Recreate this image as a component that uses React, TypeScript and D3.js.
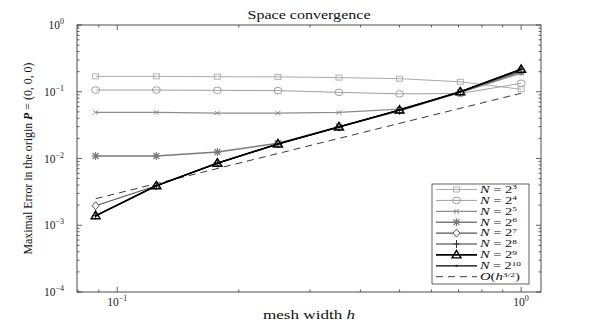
import React from "react";
import * as d3 from "d3";

const hValues = [0.0884, 0.125, 0.177, 0.25, 0.354, 0.5, 0.707, 1.0];
const errN3 = [0.17, 0.17, 0.168, 0.167, 0.163, 0.157, 0.141, 0.109];
const errN4 = [0.106, 0.106, 0.105, 0.104, 0.098, 0.093, 0.094, 0.134];
const errN5 = [0.049, 0.049, 0.048, 0.048, 0.049, 0.055, 0.097, 0.19];
const errN6 = [0.0109, 0.0109, 0.0125, 0.0169, 0.03, 0.052, 0.098, 0.2];
const errN7 = [0.00196, 0.0039, 0.0086, 0.0165, 0.0296, 0.0525, 0.099, 0.208];
const errN8 = [0.00139, 0.0039, 0.00847, 0.0165, 0.0296, 0.0533, 0.1, 0.215];
const errN9 = [0.00139, 0.0039, 0.0085, 0.0165, 0.0297, 0.0533, 0.1, 0.217];
const errN10 = [0.00138, 0.0039, 0.0085, 0.0165, 0.0297, 0.0533, 0.1, 0.217];
const refH = [0.0884, 1.0];
const refErr = [0.0025, 0.095];

const seriesExps = ["3", "4", "5", "6", "7", "8", "9", "10"];
const seriesData = [errN3, errN4, errN5, errN6, errN7, errN8, errN9, errN10];
const seriesColors = ["#aaaaaa", "#a0a0a0", "#8c8c8c", "#7a7a7a", "#555555", "#333333", "#000000", "#000000"];
const seriesWidths = [1, 1, 1.2, 1.5, 1.2, 1, 1.6, 1.2];
const seriesMarkers = ["square", "circle", "x", "star", "diamond", "plus", "triangle", "dot"];

const yTickExps = [0, -1, -2, -3, -4];
const xTickExps = [-1, 0];

const W = 598, H = 329;
const L = 77, R = 541, T = 25, B = 292;
const FONT = "'Liberation Serif', 'DejaVu Serif', serif";

function Marker({ type, x, y, color }: { type: string; x: number; y: number; color: string }) {
  switch (type) {
    case "square":
      return <rect x={x - 3} y={y - 2.5} width={6} height={5} fill="none" stroke={color} strokeWidth={0.9} />;
    case "circle":
      return <ellipse cx={x} cy={y} rx={4} ry={3.3} fill="none" stroke={color} strokeWidth={1} />;
    case "x":
      return (
        <path d={`M${x - 2.5},${y - 2}L${x + 2.5},${y + 2}M${x - 2.5},${y + 2}L${x + 2.5},${y - 2}`} stroke={color} strokeWidth={1} fill="none" />
      );
    case "star":
      return (
        <path
          d={`M${x - 4},${y}L${x + 4},${y}M${x},${y - 4}L${x},${y + 4}M${x - 3},${y - 3}L${x + 3},${y + 3}M${x - 3},${y + 3}L${x + 3},${y - 3}`}
          stroke={color}
          strokeWidth={1.2}
          fill="none"
        />
      );
    case "diamond":
      return <path d={`M${x},${y - 4}L${x + 3.5},${y}L${x},${y + 4}L${x - 3.5},${y}Z`} fill="#fff" stroke={color} strokeWidth={1} />;
    case "plus":
      return <path d={`M${x - 3},${y}L${x + 3},${y}M${x},${y - 4}L${x},${y + 4}`} stroke={color} strokeWidth={1} fill="none" />;
    case "triangle":
      return <path d={`M${x},${y - 4.5}L${x + 4.5},${y + 3}L${x - 4.5},${y + 3}Z`} fill="none" stroke={color} strokeWidth={1.4} />;
    case "dot":
      return <circle cx={x} cy={y} r={1} fill={color} />;
    default:
      return null;
  }
}

export default function App() {
  const x = d3.scaleLog().domain([0.0795, 1.12]).range([L, R]);
  const y = d3.scaleLog().domain([1e-4, 1]).range([B, T]);
  const line = d3
    .line<[number, number]>()
    .x((d) => x(d[0]))
    .y((d) => y(d[1]));

  const yMinor: number[] = [];
  for (let e = -4; e < 0; e++) for (let m = 2; m <= 9; m++) yMinor.push(m * Math.pow(10, e));
  const xMinor = [0.08, 0.09, 0.2, 0.3, 0.4, 0.5, 0.6, 0.7, 0.8, 0.9];

  const axisColor = "#3a3a3a";
  const legX = 432, legY = 184, legW = 97, legH = 100;
  const rowH = 10.9;

  return (
    <svg width={W} height={H} style={{ position: "absolute", left: 0, top: 0, background: "#fff" }} fontFamily={FONT}>
      <rect x={0} y={0} width={W} height={H} fill="#fff" />
      <g stroke={axisColor} strokeWidth={0.8}>
        {yTickExps.map((e) => (
          <g key={"ym" + e}>
            <line x1={L} x2={L + 5} y1={y(Math.pow(10, e))} y2={y(Math.pow(10, e))} />
            <line x1={R} x2={R - 5} y1={y(Math.pow(10, e))} y2={y(Math.pow(10, e))} />
          </g>
        ))}
        {yMinor.map((v, i) => (
          <g key={"yn" + i}>
            <line x1={L} x2={L + 2.5} y1={y(v)} y2={y(v)} />
            <line x1={R} x2={R - 2.5} y1={y(v)} y2={y(v)} />
          </g>
        ))}
        {xTickExps.map((e) => (
          <g key={"xm" + e}>
            <line x1={x(Math.pow(10, e))} x2={x(Math.pow(10, e))} y1={B} y2={B - 5} />
            <line x1={x(Math.pow(10, e))} x2={x(Math.pow(10, e))} y1={T} y2={T + 5} />
          </g>
        ))}
        {xMinor.map((v, i) => (
          <g key={"xn" + i}>
            <line x1={x(v)} x2={x(v)} y1={B} y2={B - 2.5} />
            <line x1={x(v)} x2={x(v)} y1={T} y2={T + 2.5} />
          </g>
        ))}
      </g>
      <path
        d={line(refH.map((h, i) => [h, refErr[i]] as [number, number])) || ""}
        fill="none"
        stroke="#222"
        strokeWidth={0.9}
        strokeDasharray="7,5"
      />
      {seriesData.map((vals, si) => (
        <g key={"s" + si}>
          <path
            d={line(hValues.map((h, i) => [h, vals[i]] as [number, number])) || ""}
            fill="none"
            stroke={seriesColors[si]}
            strokeWidth={seriesWidths[si]}
          />
          {hValues.map((h, i) => (
            <Marker key={i} type={seriesMarkers[si]} x={x(h)} y={y(vals[i])} color={seriesColors[si]} />
          ))}
        </g>
      ))}
      <rect x={L} y={T} width={R - L} height={B - T} fill="none" stroke={axisColor} strokeWidth={0.9} />
      {yTickExps.map((e) => (
        <text key={"yl" + e} x={64} y={y(Math.pow(10, e)) + 4} textAnchor="end" fontSize={11.5} fill="#222">
          10
          <tspan fontSize={8} dy={-5}>
            {e === 0 ? "0" : "\u2212" + Math.abs(e)}
          </tspan>
        </text>
      ))}
      {xTickExps.map((e) => (
        <text key={"xl" + e} x={x(Math.pow(10, e))} y={306} textAnchor="middle" fontSize={11.5} fill="#222">
          10
          <tspan fontSize={8} dy={-5}>
            {e === 0 ? "0" : "\u2212" + Math.abs(e)}
          </tspan>
        </text>
      ))}
      <text x={(L + R) / 2} y={19} textAnchor="middle" fontSize={12} fill="#111" textLength={123} lengthAdjust="spacingAndGlyphs">
        Space convergence
      </text>
      <text x={(L + R) / 2} y={319} textAnchor="middle" fontSize={12.5} fill="#111" textLength={92} lengthAdjust="spacingAndGlyphs">
        mesh width <tspan fontStyle="italic">h</tspan>
      </text>
      <text
        transform={`translate(32,${(T + B) / 2}) rotate(-90)`}
        textAnchor="middle"
        fontSize={12}
        fill="#111"
        textLength={192}
        lengthAdjust="spacingAndGlyphs"
      >
        Maximal Error in the origin <tspan fontStyle="italic" fontWeight="bold">P</tspan> = (0, 0, 0)
      </text>
      <rect x={legX} y={legY} width={legW} height={legH} fill="#fff" stroke={axisColor} strokeWidth={0.8} />
      {seriesExps.map((ex, si) => {
        const cy = legY + 5.5 + si * rowH;
        return (
          <g key={"lg" + si}>
            <line x1={436} x2={477} y1={cy} y2={cy} stroke={seriesColors[si]} strokeWidth={seriesWidths[si]} />
            <Marker type={seriesMarkers[si]} x={456.5} y={cy} color={seriesColors[si]} />
            <text
              x={480}
              y={cy + 3.3}
              fontSize={10}
              fill="#111"
              textLength={ex.length > 1 ? 41 : 37}
              lengthAdjust="spacingAndGlyphs"
            >
              <tspan fontStyle="italic">N</tspan> = 2<tspan fontSize={6.5} dy={-3.5}>{ex}</tspan>
            </text>
          </g>
        );
      })}
      {(() => {
        const cy = legY + 5.5 + 8 * rowH;
        return (
          <g>
            <line x1={436} x2={477} y1={cy} y2={cy} stroke="#222" strokeWidth={0.9} strokeDasharray="7,5" />
            <text x={480} y={cy + 3.3} fontSize={10} fill="#111" textLength={40} lengthAdjust="spacingAndGlyphs">
              <tspan fontStyle="italic">O</tspan>(<tspan fontStyle="italic">h</tspan>
              <tspan fontSize={6.5} dy={-3.5}>3/2</tspan>
              <tspan dy={3.5}>)</tspan>
            </text>
          </g>
        );
      })()}
    </svg>
  );
}
